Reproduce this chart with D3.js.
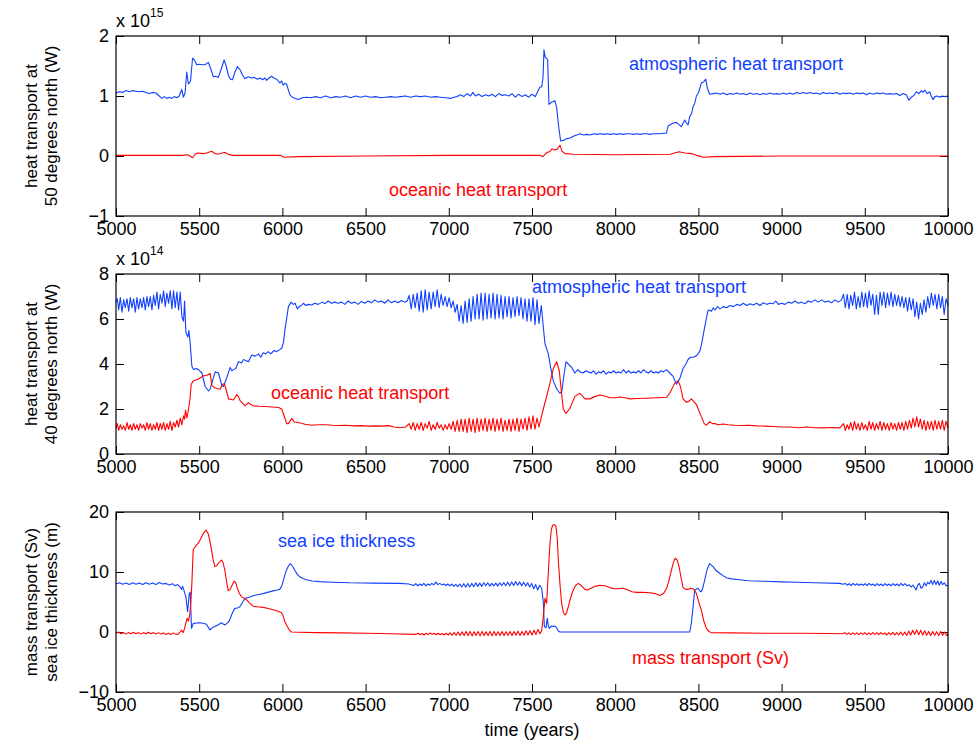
<!DOCTYPE html>
<html>
<head>
<meta charset="utf-8">
<script src="https://cdn.jsdelivr.net/npm/d3@7"></script>
<style>
  body { margin: 0; background: #fff; }
  svg { display: block; font-family: "Liberation Sans", Arial, Helvetica, sans-serif; }
  .tick line { stroke: #000; }
  .tick text { font-size: 18px; fill: #000; }
</style>
</head>
<body>
<svg width="976" height="742"></svg>
<script>
// x ticks shared by all three panels
var yearTicks = d3.range(5000, 10001, 500);

// panel 1: heat transport at 50N (x 10^15 W)
var atm50 = [[5000,1.05],[5020,1.07],[5040,1.06],[5060,1.09],[5080,1.07],[5100,1.09],[5120,1.08],[5140,1.07],[5160,1.08],[5180,1.06],[5200,1.04],[5220,1.06],[5240,1.05],[5260,1.0],[5275,0.96],[5290,0.99],[5305,0.96],[5320,0.98],[5335,0.96],[5350,0.99],[5365,0.97],[5380,1.0],[5395,1.11],[5405,0.98],[5415,1.05],[5425,1.4],[5435,1.2],[5448,1.25],[5460,1.63],[5472,1.6],[5485,1.52],[5500,1.53],[5520,1.52],[5535,1.52],[5555,1.56],[5570,1.45],[5585,1.32],[5600,1.33],[5615,1.31],[5632,1.45],[5650,1.6],[5662,1.5],[5675,1.35],[5688,1.28],[5700,1.27],[5715,1.4],[5730,1.49],[5745,1.44],[5760,1.35],[5775,1.29],[5795,1.32],[5815,1.3],[5830,1.31],[5850,1.28],[5865,1.3],[5880,1.27],[5895,1.3],[5905,1.26],[5920,1.3],[5935,1.33],[5950,1.3],[5965,1.28],[5985,1.22],[5995,1.25],[6005,1.18],[6015,1.21],[6025,1.2],[6045,1.02],[6065,0.97],[6095,0.94],[6120,0.97],[6145,0.98],[6170,0.97],[6200,0.99],[6230,0.97],[6260,1.0],[6290,0.97],[6320,0.99],[6350,0.98],[6380,1.0],[6410,0.97],[6440,1.0],[6470,0.98],[6500,1.0],[6530,0.98],[6560,0.99],[6590,0.97],[6620,0.98],[6650,0.99],[6680,0.98],[6710,0.99],[6740,1.0],[6770,0.98],[6800,1.0],[6830,0.99],[6860,1.0],[6890,0.98],[6920,0.99],[6950,0.98],[6980,0.97],[7010,0.96],[7030,0.98],[7050,0.99],[7070,1.02],[7090,0.99],[7110,1.04],[7130,1.0],[7145,1.06],[7160,1.0],[7180,1.03],[7200,0.99],[7220,1.02],[7240,1.0],[7260,1.03],[7280,0.99],[7300,1.04],[7320,1.01],[7340,1.02],[7360,1.0],[7380,1.04],[7400,0.98],[7420,1.03],[7440,0.99],[7460,1.02],[7480,0.98],[7500,1.03],[7520,0.99],[7535,1.08],[7548,1.15],[7558,1.15],[7566,1.3],[7572,1.77],[7580,1.64],[7588,1.63],[7594,1.6],[7602,0.86],[7620,0.9],[7638,0.92],[7648,0.81],[7660,0.5],[7672,0.25],[7688,0.26],[7710,0.29],[7730,0.3],[7748,0.33],[7770,0.35],[7790,0.37],[7810,0.35],[7830,0.36],[7850,0.35],[7870,0.37],[7890,0.36],[7910,0.37],[7930,0.36],[7950,0.37],[7970,0.36],[7990,0.37],[8010,0.36],[8030,0.37],[8050,0.36],[8070,0.37],[8090,0.37],[8110,0.36],[8130,0.37],[8150,0.36],[8170,0.37],[8190,0.37],[8210,0.36],[8230,0.37],[8250,0.37],[8270,0.37],[8290,0.38],[8308,0.38],[8318,0.5],[8335,0.53],[8350,0.55],[8368,0.56],[8385,0.52],[8398,0.49],[8410,0.56],[8418,0.6],[8428,0.55],[8438,0.52],[8448,0.66],[8458,0.7],[8468,0.82],[8478,0.88],[8488,1.0],[8500,1.05],[8518,1.22],[8530,1.23],[8544,1.28],[8555,1.12],[8568,1.03],[8590,1.04],[8610,1.05],[8630,1.03],[8650,1.05],[8670,1.02],[8690,1.04],[8710,1.03],[8730,1.05],[8750,1.03],[8770,1.04],[8790,1.02],[8810,1.05],[8830,1.03],[8850,1.04],[8870,1.02],[8890,1.04],[8910,1.03],[8930,1.05],[8950,1.03],[8970,1.04],[8990,1.03],[9010,1.05],[9030,1.03],[9050,1.05],[9070,1.03],[9090,1.06],[9110,1.04],[9130,1.06],[9150,1.04],[9170,1.06],[9190,1.04],[9210,1.05],[9230,1.03],[9250,1.06],[9270,1.04],[9290,1.05],[9310,1.04],[9330,1.06],[9350,1.03],[9370,1.05],[9390,1.04],[9410,1.05],[9430,1.03],[9450,1.05],[9470,1.04],[9490,1.05],[9510,1.02],[9530,1.05],[9550,1.03],[9570,1.05],[9590,1.04],[9610,1.05],[9630,1.03],[9650,1.04],[9670,1.03],[9690,1.04],[9710,1.01],[9730,1.04],[9750,1.02],[9765,0.93],[9780,0.98],[9795,1.01],[9810,1.07],[9825,1.04],[9840,1.09],[9850,1.06],[9860,1.1],[9875,1.04],[9890,1.07],[9900,0.99],[9910,0.94],[9922,0.99],[9935,1.0],[9950,0.98],[9965,1.0],[9980,0.99],[10000,1.0]];

var ocn50 = [[5000,0.01],[5200,0.01],[5400,0.01],[5430,0.02],[5445,0.0],[5460,-0.03],[5475,0.03],[5490,0.05],[5520,0.04],[5545,0.05],[5575,0.08],[5590,0.05],[5610,0.03],[5640,0.05],[5655,0.06],[5675,0.03],[5700,0.01],[5800,0.01],[5990,0.01],[6010,-0.02],[6100,-0.01],[6500,0.0],[7000,0.01],[7550,0.01],[7565,-0.01],[7590,0.06],[7605,0.07],[7620,0.12],[7635,0.1],[7650,0.11],[7668,0.18],[7680,0.08],[7700,0.04],[7750,0.03],[8000,0.02],[8330,0.03],[8384,0.07],[8420,0.05],[8458,0.04],[8490,0.01],[8528,-0.02],[8600,-0.01],[9000,0.0],[10000,0.0]];

// panel 2: heat transport at 40N (x 10^14 W)
var atm40 = [[5000,6.75],[5008,6.9],[5016,6.4],[5026,6.95],[5036,6.3],[5046,6.85],[5056,6.5],[5066,6.9],[5076,6.35],[5086,6.95],[5096,6.5],[5106,6.9],[5116,6.3],[5126,6.95],[5136,6.45],[5146,6.9],[5156,6.5],[5166,6.95],[5176,6.4],[5186,7.0],[5196,6.55],[5206,7.0],[5216,6.4],[5226,7.05],[5236,6.6],[5246,7.2],[5256,6.45],[5266,7.1],[5276,6.7],[5286,7.25],[5296,6.55],[5306,7.15],[5316,6.7],[5326,7.25],[5336,6.45],[5346,7.25],[5356,6.5],[5366,7.2],[5376,6.4],[5386,7.2],[5396,6.1],[5406,5.9],[5412,6.8],[5420,5.4],[5432,5.2],[5438,5.5],[5446,4.9],[5456,3.9],[5466,3.75],[5481,3.8],[5496,3.75],[5516,3.6],[5536,3.0],[5556,2.8],[5566,2.9],[5576,3.15],[5596,3.65],[5616,3.6],[5636,3.05],[5646,3.0],[5666,3.4],[5686,3.85],[5696,3.7],[5706,3.75],[5720,3.8],[5736,4.1],[5756,4.05],[5766,4.2],[5780,4.15],[5796,4.1],[5816,4.4],[5836,4.35],[5856,4.45],[5870,4.3],[5885,4.5],[5900,4.45],[5915,4.55],[5930,4.45],[5950,4.6],[5966,4.55],[5986,4.65],[5996,4.7],[6006,4.95],[6016,5.55],[6036,6.55],[6052,6.75],[6065,6.65],[6076,6.7],[6090,6.45],[6100,6.55],[6115,6.6],[6126,6.7],[6140,6.6],[6155,6.65],[6176,6.62],[6195,6.7],[6215,6.65],[6240,6.75],[6256,6.68],[6275,6.8],[6295,6.7],[6315,6.75],[6335,6.7],[6355,6.75],[6375,6.65],[6395,6.8],[6415,6.7],[6435,6.75],[6455,6.65],[6475,6.78],[6495,6.7],[6515,6.8],[6535,6.72],[6555,6.85],[6575,6.75],[6595,6.8],[6615,6.7],[6635,6.85],[6655,6.72],[6675,6.8],[6695,6.72],[6715,6.82],[6735,6.75],[6750,6.8],[6762,7.05],[6774,6.45],[6786,7.1],[6798,6.5],[6810,7.15],[6822,6.35],[6834,7.25],[6846,6.3],[6858,7.3],[6870,6.4],[6882,7.2],[6894,6.45],[6906,7.2],[6918,6.55],[6930,7.3],[6942,6.5],[6954,7.1],[6966,6.6],[6978,7.0],[6990,6.55],[7002,6.95],[7014,6.5],[7026,6.8],[7038,6.3],[7050,6.65],[7062,5.9],[7074,6.6],[7086,5.8],[7098,6.8],[7110,5.85],[7122,6.9],[7134,5.9],[7146,7.0],[7158,6.0],[7170,7.1],[7182,6.0],[7194,7.15],[7206,5.95],[7218,7.15],[7230,6.0],[7242,7.1],[7254,6.05],[7266,7.15],[7278,6.0],[7290,7.1],[7302,6.05],[7314,7.05],[7326,6.0],[7338,7.0],[7350,6.1],[7362,7.0],[7374,6.05],[7386,6.95],[7398,6.1],[7410,7.0],[7422,6.15],[7434,6.95],[7446,6.0],[7458,6.9],[7470,5.9],[7482,6.9],[7494,5.9],[7506,6.95],[7518,5.75],[7530,6.85],[7542,5.8],[7556,6.6],[7566,5.8],[7578,4.9],[7598,4.45],[7612,3.85],[7628,3.25],[7648,2.9],[7668,2.7],[7680,2.8],[7688,3.3],[7704,4.1],[7718,4.0],[7738,3.85],[7758,3.6],[7775,3.75],[7788,3.65],[7808,3.6],[7823,3.7],[7838,3.65],[7855,3.6],[7870,3.7],[7885,3.55],[7900,3.65],[7915,3.6],[7930,3.7],[7945,3.55],[7960,3.65],[7975,3.6],[7990,3.7],[8005,3.6],[8020,3.65],[8035,3.6],[8050,3.75],[8065,3.6],[8080,3.7],[8095,3.6],[8110,3.65],[8125,3.6],[8140,3.7],[8155,3.6],[8170,3.75],[8185,3.65],[8200,3.6],[8215,3.7],[8230,3.6],[8245,3.65],[8260,3.6],[8275,3.7],[8290,3.65],[8308,3.75],[8328,3.6],[8348,3.45],[8368,3.1],[8388,3.35],[8408,3.8],[8425,4.0],[8438,4.2],[8452,4.3],[8468,4.3],[8485,4.35],[8498,4.45],[8510,4.6],[8518,4.85],[8538,5.65],[8558,6.4],[8578,6.35],[8590,6.5],[8600,6.4],[8615,6.55],[8630,6.45],[8650,6.55],[8670,6.5],[8688,6.6],[8710,6.55],[8730,6.65],[8750,6.6],[8770,6.7],[8790,6.6],[8810,6.68],[8830,6.62],[8850,6.7],[8870,6.6],[8890,6.72],[8910,6.65],[8930,6.7],[8950,6.68],[8965,6.8],[8980,6.65],[9000,6.7],[9020,6.65],[9040,6.75],[9060,6.7],[9080,6.8],[9100,6.7],[9120,6.75],[9140,6.68],[9160,6.8],[9180,6.75],[9200,6.85],[9220,6.75],[9240,6.85],[9260,6.75],[9280,6.8],[9300,6.72],[9320,6.85],[9340,6.75],[9360,6.85],[9372,7.1],[9383,6.5],[9394,7.1],[9405,6.45],[9416,7.05],[9427,6.6],[9438,7.2],[9449,6.45],[9460,7.0],[9471,6.5],[9482,7.2],[9493,6.55],[9504,7.15],[9515,6.5],[9526,7.25],[9537,6.6],[9548,7.1],[9559,6.2],[9570,7.05],[9581,6.2],[9592,7.2],[9603,6.6],[9614,7.2],[9625,6.5],[9636,7.15],[9647,6.6],[9658,7.2],[9669,6.55],[9680,7.1],[9691,6.6],[9702,7.05],[9713,6.55],[9724,7.0],[9735,6.5],[9746,6.95],[9757,6.35],[9768,6.95],[9779,6.4],[9790,6.9],[9801,6.1],[9812,6.75],[9823,6.0],[9834,6.7],[9845,6.2],[9856,6.85],[9867,6.3],[9878,7.0],[9889,6.5],[9900,7.15],[9911,6.6],[9922,7.1],[9933,6.45],[9944,7.1],[9955,6.5],[9966,7.0],[9977,6.2],[9988,6.9],[10000,6.6]];

var ocn40 = [[5000,1.15],[5008,1.35],[5016,1.05],[5026,1.3],[5036,1.1],[5046,1.25],[5056,1.05],[5066,1.4],[5076,1.1],[5086,1.3],[5096,1.05],[5106,1.35],[5116,1.1],[5126,1.3],[5136,1.05],[5146,1.35],[5156,1.15],[5166,1.3],[5176,1.05],[5186,1.4],[5196,1.1],[5206,1.35],[5216,1.05],[5226,1.3],[5236,1.1],[5246,1.4],[5256,1.05],[5266,1.35],[5276,1.1],[5286,1.4],[5296,1.05],[5306,1.35],[5316,1.1],[5326,1.45],[5336,1.05],[5346,1.4],[5356,1.2],[5366,1.5],[5376,1.2],[5386,1.6],[5396,1.3],[5406,1.7],[5412,1.55],[5418,1.95],[5426,1.6],[5434,1.9],[5444,2.4],[5452,3.1],[5466,3.26],[5496,3.33],[5526,3.48],[5546,3.5],[5566,3.58],[5576,3.05],[5596,2.93],[5626,2.88],[5640,3.1],[5652,3.12],[5664,2.8],[5676,2.45],[5706,2.4],[5726,2.64],[5736,2.55],[5746,2.37],[5776,2.14],[5796,2.28],[5810,2.2],[5826,2.14],[5860,2.12],[5896,2.11],[5940,2.09],[5976,2.07],[5996,2.0],[6010,1.7],[6026,1.35],[6036,1.35],[6056,1.58],[6072,1.42],[6096,1.4],[6136,1.32],[6176,1.28],[6220,1.3],[6260,1.3],[6300,1.28],[6340,1.27],[6380,1.28],[6426,1.25],[6470,1.26],[6520,1.24],[6560,1.25],[6600,1.24],[6640,1.26],[6670,1.2],[6706,1.17],[6740,1.2],[6762,1.35],[6774,1.1],[6786,1.4],[6798,1.05],[6810,1.35],[6822,1.1],[6834,1.4],[6846,1.05],[6858,1.35],[6870,1.15],[6882,1.45],[6894,1.05],[6906,1.3],[6918,1.1],[6930,1.4],[6942,1.15],[6954,1.3],[6966,1.05],[6978,1.3],[6990,1.1],[7002,1.35],[7014,1.1],[7026,1.45],[7038,1.0],[7050,1.5],[7062,1.0],[7074,1.55],[7086,1.0],[7098,1.55],[7110,0.95],[7122,1.6],[7134,1.0],[7146,1.55],[7158,0.95],[7170,1.6],[7182,1.0],[7194,1.55],[7206,1.05],[7218,1.6],[7230,1.0],[7242,1.55],[7254,1.05],[7266,1.6],[7278,1.0],[7290,1.55],[7302,1.05],[7314,1.6],[7326,1.0],[7338,1.5],[7350,1.05],[7362,1.55],[7374,1.0],[7386,1.55],[7398,1.05],[7410,1.6],[7422,1.0],[7434,1.55],[7446,1.1],[7458,1.6],[7470,1.05],[7482,1.65],[7494,1.1],[7506,1.7],[7518,1.1],[7530,1.6],[7542,1.2],[7556,1.65],[7568,2.0],[7588,2.56],[7608,3.15],[7628,3.8],[7648,4.1],[7664,3.7],[7678,2.68],[7688,2.0],[7704,1.8],[7728,2.03],[7758,2.56],[7788,2.7],[7818,2.45],[7848,2.45],[7878,2.55],[7908,2.62],[7938,2.58],[7968,2.5],[8000,2.5],[8028,2.53],[8060,2.5],[8088,2.45],[8130,2.47],[8188,2.48],[8250,2.5],[8308,2.52],[8328,2.7],[8358,3.15],[8378,3.25],[8392,3.0],[8408,2.45],[8428,2.3],[8445,2.35],[8458,2.45],[8475,2.3],[8488,2.2],[8518,1.65],[8535,1.35],[8548,1.28],[8568,1.43],[8585,1.35],[8600,1.35],[8620,1.3],[8648,1.33],[8680,1.3],[8720,1.28],[8768,1.27],[8800,1.28],[8850,1.25],[8900,1.24],[8950,1.22],[9000,1.2],[9050,1.2],[9100,1.17],[9150,1.2],[9200,1.17],[9250,1.16],[9300,1.18],[9350,1.16],[9372,1.35],[9383,1.05],[9394,1.3],[9405,1.1],[9416,1.4],[9427,1.05],[9438,1.45],[9449,1.1],[9460,1.35],[9471,1.05],[9482,1.4],[9493,1.1],[9504,1.3],[9515,1.05],[9526,1.45],[9537,1.1],[9548,1.4],[9559,1.05],[9570,1.35],[9581,1.1],[9592,1.45],[9603,1.05],[9614,1.4],[9625,1.1],[9636,1.35],[9647,1.05],[9658,1.4],[9669,1.1],[9680,1.35],[9691,1.05],[9702,1.4],[9713,1.1],[9724,1.4],[9735,1.05],[9746,1.45],[9757,1.1],[9768,1.5],[9779,1.15],[9790,1.6],[9801,1.2],[9812,1.65],[9823,1.2],[9834,1.55],[9845,1.1],[9856,1.5],[9867,1.05],[9878,1.45],[9889,1.1],[9900,1.45],[9911,1.05],[9922,1.5],[9933,1.1],[9944,1.45],[9955,1.1],[9966,1.5],[9977,1.05],[9988,1.45],[10000,1.15]];

// panel 3: sea ice thickness (m) and mass transport (Sv)
var ice = [[5000,8.0],[5020,8.2],[5040,7.95],[5060,8.15],[5080,7.9],[5100,8.2],[5120,7.95],[5140,8.15],[5160,7.9],[5180,8.2],[5200,7.95],[5220,8.15],[5240,7.9],[5260,8.25],[5280,8.0],[5300,8.1],[5320,7.85],[5340,8.05],[5355,7.7],[5370,7.9],[5385,7.5],[5394,7.1],[5400,7.6],[5404,7.3],[5412,6.6],[5420,5.9],[5430,3.4],[5436,5.0],[5440,6.4],[5446,6.6],[5450,3.5],[5454,0.6],[5464,1.4],[5484,1.5],[5504,1.55],[5524,1.45],[5544,1.3],[5564,0.35],[5578,0.7],[5594,0.9],[5614,1.2],[5634,1.55],[5646,1.3],[5654,1.17],[5664,1.4],[5674,1.6],[5685,2.1],[5694,2.83],[5705,3.5],[5714,3.94],[5730,4.0],[5744,4.2],[5760,4.9],[5774,5.6],[5800,5.8],[5824,6.05],[5850,6.2],[5884,6.4],[5910,6.6],[5944,6.85],[5970,7.0],[5984,7.1],[5995,7.6],[6004,8.4],[6014,9.4],[6024,10.3],[6036,11.0],[6048,11.4],[6060,11.0],[6074,10.3],[6090,9.6],[6104,9.2],[6124,8.9],[6144,8.7],[6180,8.5],[6224,8.4],[6300,8.3],[6404,8.2],[6550,8.15],[6704,8.1],[6760,8.0],[6790,7.75],[6802,8.05],[6814,7.7],[6826,8.0],[6838,7.75],[6850,8.1],[6862,7.7],[6874,8.0],[6886,7.8],[6898,8.1],[6910,7.85],[6922,8.3],[6934,7.9],[6946,8.1],[6958,7.85],[6970,8.0],[6982,7.75],[6994,8.0],[7006,7.7],[7018,8.0],[7030,7.6],[7042,7.95],[7054,7.55],[7066,8.0],[7078,7.5],[7090,8.05],[7102,7.45],[7114,8.1],[7126,7.5],[7138,8.1],[7150,7.55],[7162,8.2],[7174,7.6],[7186,8.15],[7198,7.6],[7210,8.2],[7222,7.7],[7234,8.2],[7246,7.65],[7258,8.1],[7270,7.7],[7282,8.15],[7294,7.65],[7306,8.2],[7318,7.75],[7330,8.25],[7342,7.7],[7354,8.3],[7366,7.7],[7378,8.35],[7390,7.75],[7402,8.4],[7414,7.8],[7426,8.35],[7438,7.7],[7450,8.3],[7462,7.65],[7474,8.2],[7486,7.5],[7498,8.1],[7510,7.2],[7522,7.9],[7534,7.0],[7546,7.8],[7558,7.3],[7568,5.0],[7574,0.9],[7584,0.7],[7592,2.3],[7598,1.0],[7604,0.6],[7618,1.0],[7630,0.9],[7638,1.0],[7650,0.6],[7658,0.17],[7668,0.0],[8448,0.0],[8458,1.5],[8468,4.2],[8478,7.0],[8498,7.3],[8510,6.8],[8518,6.7],[8528,7.5],[8538,8.7],[8553,10.5],[8568,11.4],[8588,10.9],[8608,10.2],[8628,9.8],[8648,9.4],[8668,9.05],[8700,8.85],[8748,8.7],[8800,8.55],[8888,8.45],[9000,8.35],[9088,8.3],[9200,8.2],[9348,8.1],[9370,7.95],[9382,8.1],[9394,7.8],[9406,8.05],[9418,7.75],[9430,8.1],[9442,7.8],[9454,8.05],[9466,7.75],[9478,8.0],[9490,7.8],[9502,8.05],[9514,7.75],[9526,8.1],[9538,7.8],[9550,8.0],[9562,7.7],[9574,8.05],[9586,7.75],[9598,8.0],[9610,7.7],[9622,8.05],[9634,7.75],[9646,8.0],[9658,7.7],[9670,8.05],[9682,7.75],[9694,8.0],[9706,7.7],[9718,8.1],[9730,7.75],[9742,8.05],[9754,7.7],[9766,7.9],[9778,7.5],[9790,7.8],[9802,7.3],[9808,7.0],[9818,7.8],[9828,8.1],[9838,7.3],[9848,7.5],[9858,8.2],[9868,7.7],[9878,8.3],[9888,8.0],[9898,8.6],[9908,7.9],[9918,8.6],[9928,7.9],[9938,8.5],[9948,7.8],[9958,8.4],[9968,7.9],[9978,8.2],[9988,7.7],[10000,7.8]];

var mass = [[5000,-0.2],[5015,0.0],[5030,-0.3],[5045,-0.1],[5060,-0.35],[5075,-0.1],[5090,-0.3],[5105,-0.05],[5120,-0.3],[5135,-0.1],[5150,-0.35],[5165,-0.1],[5180,-0.3],[5195,-0.05],[5210,-0.3],[5225,-0.1],[5240,-0.35],[5255,-0.1],[5270,-0.35],[5285,-0.15],[5300,-0.4],[5315,-0.2],[5330,-0.4],[5345,-0.15],[5360,-0.4],[5374,-0.35],[5385,0.0],[5394,0.3],[5404,-0.1],[5412,0.6],[5420,1.5],[5428,2.3],[5436,1.8],[5444,3.1],[5450,5.0],[5456,8.1],[5464,13.7],[5478,14.3],[5494,14.8],[5510,15.6],[5524,16.4],[5540,17.0],[5554,16.4],[5564,15.2],[5574,13.7],[5584,12.0],[5594,10.9],[5604,11.0],[5614,11.4],[5634,12.0],[5644,11.5],[5654,10.3],[5664,8.5],[5674,6.9],[5684,7.0],[5694,7.6],[5710,8.5],[5720,8.2],[5728,7.4],[5740,6.5],[5754,5.9],[5770,5.6],[5784,5.4],[5800,4.9],[5824,4.3],[5850,4.2],[5884,4.1],[5910,3.95],[5944,3.7],[5970,3.5],[5994,3.2],[6004,2.7],[6014,1.8],[6024,1.2],[6040,0.4],[6054,0.0],[6100,-0.05],[6204,-0.1],[6350,-0.15],[6504,-0.2],[6650,-0.3],[6804,-0.4],[6816,-0.2],[6828,-0.45],[6840,-0.25],[6852,-0.5],[6864,-0.2],[6876,-0.45],[6888,-0.15],[6900,-0.4],[6912,-0.2],[6924,-0.45],[6936,-0.2],[6948,-0.45],[6960,-0.25],[6972,-0.5],[6984,-0.2],[6996,-0.5],[7008,-0.15],[7020,-0.55],[7032,-0.05],[7044,-0.55],[7056,0.0],[7068,-0.6],[7080,0.05],[7092,-0.6],[7104,0.1],[7116,-0.6],[7128,0.1],[7140,-0.65],[7152,0.05],[7164,-0.6],[7176,0.1],[7188,-0.65],[7200,0.1],[7212,-0.6],[7224,0.05],[7236,-0.6],[7248,0.1],[7260,-0.65],[7272,0.1],[7284,-0.6],[7296,0.05],[7308,-0.6],[7320,0.1],[7332,-0.6],[7344,0.05],[7356,-0.55],[7368,0.1],[7380,-0.6],[7392,0.1],[7404,-0.55],[7416,0.15],[7428,-0.6],[7440,0.1],[7452,-0.55],[7464,0.2],[7476,-0.5],[7488,0.2],[7500,-0.5],[7512,0.3],[7524,-0.4],[7536,0.4],[7548,-0.3],[7558,0.2],[7568,2.6],[7578,5.6],[7588,4.8],[7598,9.8],[7608,14.8],[7616,17.0],[7624,17.8],[7634,17.9],[7644,17.6],[7652,15.5],[7658,12.0],[7668,8.0],[7678,4.8],[7688,3.3],[7698,2.83],[7708,3.2],[7718,4.2],[7733,5.8],[7748,7.0],[7763,7.8],[7778,8.1],[7798,7.7],[7818,7.1],[7833,7.0],[7848,7.2],[7878,7.6],[7908,7.8],[7938,7.7],[7968,7.4],[7993,7.2],[8018,7.2],[8048,7.3],[8078,7.0],[8100,6.7],[8128,6.6],[8168,6.6],[8208,6.55],[8240,6.4],[8268,6.1],[8290,6.4],[8308,7.2],[8323,8.6],[8338,10.3],[8350,11.6],[8360,12.3],[8372,12.0],[8384,10.9],[8396,9.0],[8408,7.4],[8423,7.1],[8438,7.1],[8453,7.3],[8468,7.2],[8478,6.9],[8488,6.4],[8500,5.2],[8518,3.6],[8533,1.8],[8548,0.6],[8563,0.1],[8578,-0.1],[8700,-0.15],[8888,-0.2],[9100,-0.22],[9288,-0.25],[9368,-0.3],[9380,-0.1],[9392,-0.4],[9404,-0.15],[9416,-0.45],[9428,-0.15],[9440,-0.4],[9452,-0.15],[9464,-0.45],[9476,-0.15],[9488,-0.4],[9500,-0.1],[9512,-0.45],[9524,-0.15],[9536,-0.45],[9548,-0.1],[9560,-0.4],[9572,-0.1],[9584,-0.45],[9596,-0.1],[9608,-0.4],[9620,-0.15],[9632,-0.5],[9644,-0.1],[9656,-0.45],[9668,-0.05],[9680,-0.5],[9692,-0.1],[9704,-0.5],[9716,0.0],[9728,-0.55],[9740,0.0],[9752,-0.6],[9764,0.15],[9776,-0.5],[9788,0.3],[9800,-0.4],[9812,0.35],[9824,-0.45],[9836,0.3],[9848,-0.5],[9860,0.2],[9872,-0.55],[9884,0.1],[9896,-0.6],[9908,0.1],[9920,-0.55],[9932,0.05],[9944,-0.6],[9956,0.1],[9968,-0.55],[9980,0.0],[9992,-0.6],[10000,-0.3]];

var blue = "#1040ff", red = "#ff0000";

var svg = d3.select("svg");
var left = 116, right = 948, panelH = 180;

var x = d3.scaleLinear().domain([5000, 10000]).range([left, right]);

// one entry per subplot
var panels = [
  { top: 36, domain: [-1, 2], ticks: [-1, 0, 1, 2], exp: "15",
    title: ["heat transport at", "50 degrees north (W)"],
    series: [{ data: atm50, color: blue }, { data: ocn50, color: red }],
    notes: [{ t: "atmospheric heat transport", x: 8083, y: 1.43, color: blue },
            { t: "oceanic heat transport", x: 6641, y: -0.67, color: red }] },
  { top: 274, domain: [0, 8], ticks: [0, 2, 4, 6, 8], exp: "14",
    title: ["heat transport at", "40 degrees north (W)"],
    series: [{ data: atm40, color: blue }, { data: ocn40, color: red }],
    notes: [{ t: "atmospheric heat transport", x: 7500, y: 7.15, color: blue },
            { t: "oceanic heat transport", x: 5932, y: 2.46, color: red }] },
  { top: 512, domain: [-10, 20], ticks: [-10, 0, 10, 20], exp: null,
    title: ["mass transport (Sv)", "sea ice thickness (m)"],
    series: [{ data: ice, color: blue }, { data: mass, color: red }],
    notes: [{ t: "sea ice thickness", x: 5974, y: 14.17, color: blue },
            { t: "mass transport (Sv)", x: 8101, y: -5.33, color: red }] }
];

panels.forEach(function(p, i) {
  var y = d3.scaleLinear().domain(p.domain).range([p.top + panelH, p.top]);
  var g = svg.append("g");

  // bottom axis with labels, top axis ticks only
  g.append("g")
    .attr("transform", "translate(0," + (p.top + panelH) + ")")
    .call(d3.axisBottom(x).tickValues(yearTicks).tickFormat(d3.format("d")).tickSizeInner(-8).tickSizeOuter(0).tickPadding(6))
    .call(a => a.select(".domain").remove());
  g.append("g")
    .attr("transform", "translate(0," + p.top + ")")
    .call(d3.axisTop(x).tickValues(yearTicks).tickFormat("").tickSizeInner(-8).tickSizeOuter(0))
    .call(a => a.select(".domain").remove());

  g.append("g")
    .attr("transform", "translate(" + left + ",0)")
    .call(d3.axisLeft(y).tickValues(p.ticks).tickFormat(d3.format("d")).tickSizeInner(-8).tickSizeOuter(0).tickPadding(7))
    .call(a => a.select(".domain").remove());
  g.append("g")
    .attr("transform", "translate(" + right + ",0)")
    .call(d3.axisRight(y).tickValues(p.ticks).tickFormat("").tickSizeInner(-8).tickSizeOuter(0))
    .call(a => a.select(".domain").remove());

  var line = d3.line().x(d => x(d[0])).y(d => y(d[1]));

  p.series.forEach(function(s) {
    g.append("path")
      .datum(s.data)
      .attr("fill", "none")
      .attr("stroke", s.color)
      .attr("stroke-width", 1.1)
      .attr("stroke-linejoin", "round")
      .attr("d", line);
  });

  // axes box
  g.append("rect")
    .attr("x", left).attr("y", p.top)
    .attr("width", right - left).attr("height", panelH)
    .attr("fill", "none").attr("stroke", "#000").attr("stroke-width", 1.2);

  p.notes.forEach(function(n) {
    g.append("text")
      .attr("x", x(n.x)).attr("y", y(n.y))
      .attr("fill", n.color)
      .style("font-size", "18px")
      .text(n.t);
  });

  // exponent label (x 10^n)
  if (p.exp) {
    var e = g.append("text").attr("x", left).attr("y", p.top - 9).style("font-size", "18px").attr("fill", "#000");
    e.append("tspan").text("x 10");
    e.append("tspan").attr("dy", -10).style("font-size", "12px").text(p.exp);
  }

  // two-line y title
  var cy = p.top + panelH / 2;
  p.title.forEach(function(t, k) {
    g.append("text")
      .attr("transform", "translate(" + (37 + k * 20) + "," + cy + ") rotate(-90)")
      .attr("text-anchor", "middle")
      .style("font-size", "17px")
      .attr("fill", "#000")
      .text(t);
  });
});

svg.append("text")
  .attr("x", (left + right) / 2).attr("y", 736)
  .attr("text-anchor", "middle")
  .style("font-size", "18px")
  .text("time (years)");
</script>
</body>
</html>
